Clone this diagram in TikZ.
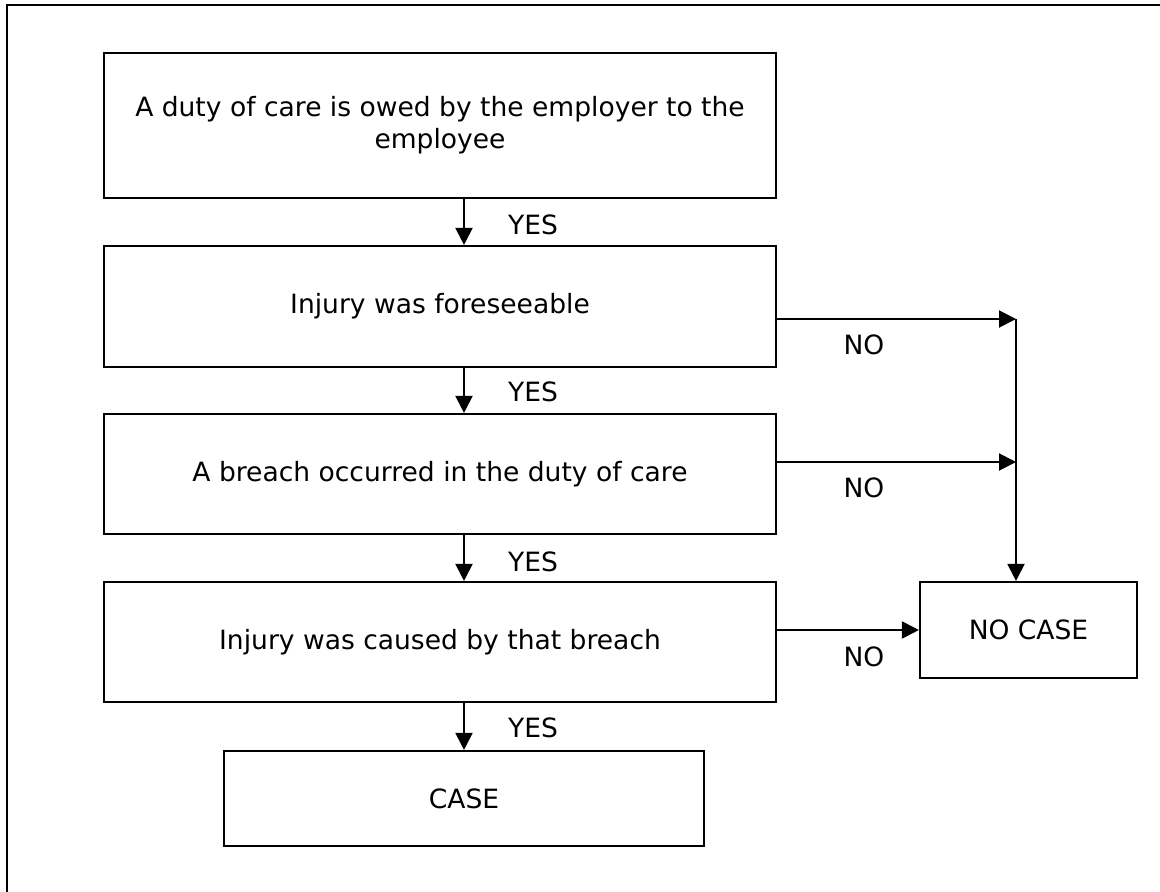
\documentclass[tikz,border=0pt]{standalone}
\usepackage{fontspec}
\setmainfont{DejaVu Sans}
\usepackage{tikz}
\usetikzlibrary{positioning, arrows.meta, calc}

\tikzset{
  stepbox/.style={draw, line width=1.2pt, align=center, inner sep=0pt,
    font=\fontsize{15.1}{18.4}\selectfont},
  arr/.style={-{Triangle[length=0.34cm, width=0.34cm]}, line width=1.1pt},
  lbl/.style={font=\fontsize{15.1}{18.4}\selectfont, inner sep=0pt}
}

\begin{document}
\begin{tikzpicture}
  \useasboundingbox (0,0) rectangle (23.2,-17.84);
  \draw[line width=1.6pt] (0.14,-17.9) -- (0.14,-0.1) -- (23.3,-0.1);

  \node[stepbox, minimum width=13.44cm, minimum height=2.9cm] (duty) at (8.8,-2.51) {A duty of care is owed by the employer to the\\employee};
  \node[stepbox, minimum width=13.44cm, minimum height=2.42cm] (fore) at (8.8,-6.13) {Injury was foreseeable};
  \node[stepbox, minimum width=13.44cm, minimum height=2.4cm] (breach) at (8.8,-9.48) {A breach occurred in the duty of care};
  \node[stepbox, minimum width=13.44cm, minimum height=2.4cm] (cause) at (8.8,-12.84) {Injury was caused by that breach};
  \node[stepbox, minimum width=9.6cm, minimum height=1.9cm] (case) at (9.28,-15.97) {CASE};
  \node[stepbox, minimum width=4.34cm, minimum height=1.92cm] (nocase) at (20.57,-12.6) {NO CASE};

  \coordinate (j1) at (20.32,-6.38);
  \coordinate (j2) at (20.32,-9.24);

  % yes path
  \draw[arr] (duty.south -| case.north) -- (fore.north -| case.north);
  \draw[arr] (fore.south -| case.north) -- (breach.north -| case.north);
  \draw[arr] (breach.south -| case.north) -- (cause.north -| case.north);
  \draw[arr] (cause.south -| case.north) -- (case.north);

  % no path
  \draw[arr] (fore.east |- j1) -- (j1);
  \draw[arr] (breach.east |- j2) -- (j2);
  \draw[arr] (j1) -- (nocase.north -| j1);
  \draw[arr] (cause.east |- nocase.west) -- (nocase.west);

  \node[lbl] (yes1) at (10.66,-4.5) {YES};
  \node[lbl] (yes2) at (10.66,-7.84) {YES};
  \node[lbl] (yes3) at (10.66,-11.24) {YES};
  \node[lbl] (yes4) at (10.66,-14.56) {YES};
  \node[lbl] (no1) at (17.28,-6.9) {NO};
  \node[lbl] (no2) at (17.28,-9.76) {NO};
  \node[lbl] (no3) at (17.28,-13.14) {NO};
\end{tikzpicture}
\end{document}
